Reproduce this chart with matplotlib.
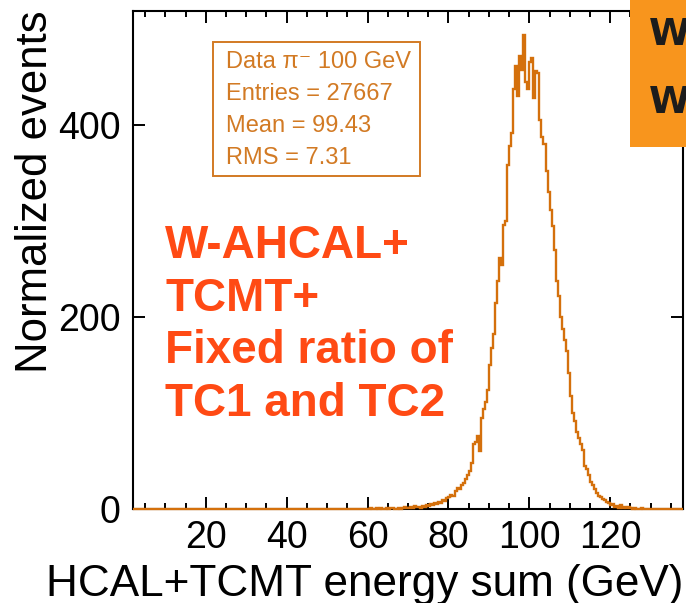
import numpy as np
import matplotlib
matplotlib.use("Agg")
import matplotlib.pyplot as plt
from matplotlib.ticker import MultipleLocator
from matplotlib.patches import Rectangle

# histogram contents, 0.5 GeV bins starting at 60 GeV (everything else is empty)
bin_width = 0.5
first_edge = 60.0
counts = [
    0, 1, 0, 0, 1, 0, 1, 0, 0, 1, 0, 1, 1, 0, 0, 1, 0, 1, 2, 1,      # 60-70
    1, 2, 1, 3, 2, 2, 1, 3, 2, 4,                                    # 70-75
    3, 5, 4, 6, 5, 7, 6, 9, 8, 11,                                   # 75-80
    13, 15, 14, 19, 22, 21, 25, 27, 31, 35,                          # 80-85
    40, 48, 68, 70, 76, 60, 95, 104, 112, 124,                       # 85-90
    150, 168, 182, 215, 238, 262, 254, 296, 300, 358,                # 90-95
    378, 392, 438, 462, 430, 472, 458, 494, 445, 438,                # 95-100
    466, 470, 428, 456, 454, 405, 388, 380, 352, 330,                # 100-105
    312, 295, 270, 238, 222, 200, 188, 176, 165, 142,                # 105-110
    118, 100, 92, 80, 74, 68, 62, 45, 42, 35,                        # 110-115
    28, 25, 21, 17, 14, 12, 10, 9, 7, 6,                             # 115-120
    4, 5, 2, 3, 1, 4, 1, 2, 1, 2,                                    # 120-125
    1, 0, 1, 0, 0, 1, 0, 0, 0, 0,                                    # 125-130
]
x_range = (2.0, 138.0)
y_max = 519

stat_lines = ["Data π⁻ 100 GeV", "Entries = 27667", "Mean = 99.43", "RMS = 7.31"]
label_lines = ["W-AHCAL+", "TCMT+", "Fixed ratio of", "TC1 and TC2"]

hist_color = "#d4700c"
stat_color = "#d27a24"
red = "#ff4a14"
W, H = 686, 603

plt.rcParams['font.family'] = ['Liberation Sans', 'DejaVu Sans']

fig = plt.figure(figsize=(W / 100, H / 100), dpi=100)
ax = fig.add_axes([133 / W, 94 / H, 550 / W, 498 / H])

# pad the filled region with empty bins over the full axis range
n_lo = int(round((first_edge - x_range[0]) / bin_width))
n_hi = int(round((x_range[1] - first_edge) / bin_width)) - len(counts)
values = np.concatenate([np.zeros(n_lo), counts, np.zeros(n_hi)])
edges = x_range[0] + bin_width * np.arange(len(values) + 1)
ax.stairs(values, edges, color=hist_color, lw=1.7, zorder=5, clip_on=False)

ax.set_xlim(*x_range)
ax.set_ylim(0, y_max)
ax.xaxis.set_major_locator(MultipleLocator(20))
ax.xaxis.set_minor_locator(MultipleLocator(5))
ax.set_yticks([0, 200, 400])
ax.tick_params(which='both', direction='in', top=True, right=True, width=1.4, labelsize=27)
ax.tick_params(which='major', length=8.6)
ax.tick_params(which='minor', length=4.3)
ax.tick_params(axis='x', pad=8)
ax.tick_params(axis='y', pad=9)
for s in ax.spines.values():
    s.set_linewidth(1.5)

fig.text(683 / W, 1 - 596 / H, "HCAL+TCMT energy sum (GeV)", fontsize=31.8,
         ha='right', va='baseline')
fig.text(36 / W, 1 - 10 / H, "Normalized events", fontsize=31.5, rotation=90,
         ha='center', va='top')

# stat box
fig.patches.append(Rectangle((213 / W, 1 - 176 / H), 207 / W, 134 / H,
                             transform=fig.transFigure, fill=False,
                             ec=stat_color, lw=1.4, zorder=6))
for i, line in enumerate(stat_lines):
    fig.text(226 / W, 1 - (62 + 32 * i) / H, line, fontsize=17,
             color=stat_color, ha='left', va='center')

for i, line in enumerate(label_lines):
    fig.text(165 / W, 1 - (258 + 52.7 * i) / H, line, fontsize=33,
             fontweight='bold', color=red, ha='left', va='baseline')

# orange slide box clipped at the top right
fig.patches.append(Rectangle((630 / W, 1 - 147 / H), 60 / W, 147 / H,
                             transform=fig.transFigure, fc="#f8951d",
                             ec='none', zorder=10))
for yb in (45, 113):
    fig.text(649 / W, 1 - yb / H, "W", fontsize=27, fontweight='bold',
             family='DejaVu Sans', color="#1c1c1c", ha='left', va='baseline',
             zorder=11)

fig.savefig("out.png", dpi=100)
